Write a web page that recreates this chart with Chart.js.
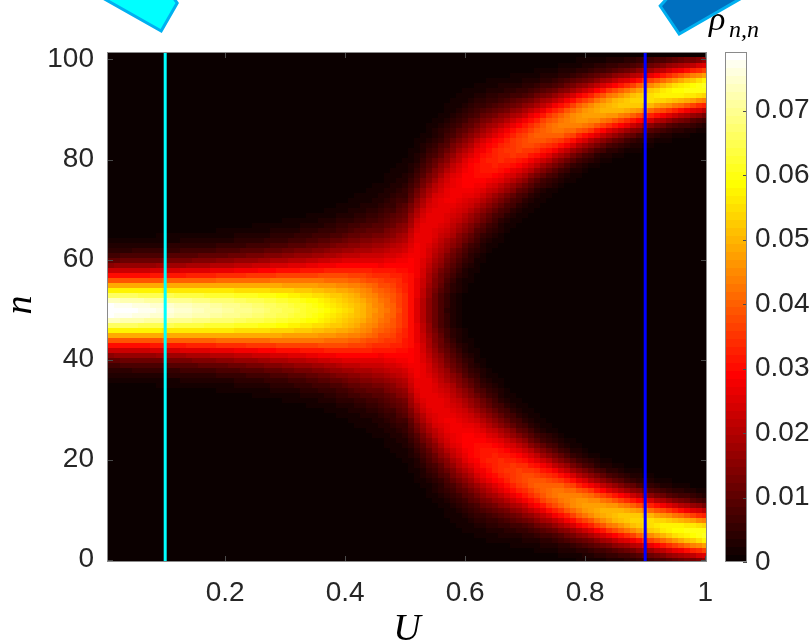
<!DOCTYPE html>
<html>
<head>
<meta charset="utf-8">
<script src="https://cdn.jsdelivr.net/npm/chart.js@4.4.1/dist/chart.umd.min.js"></script>
<style>
html,body{margin:0;padding:0;background:#fff;}
#wrap{width:809px;height:643px;}
</style>
</head>
<body>
<div id="wrap"><canvas id="mycanvas" width="809" height="643"></canvas></div>
<script>
// one column of the map per interaction value U
var uValues = [
	0.01,0.02,0.03,0.04,0.05,0.06,0.07,0.08,0.09,0.10,
	0.11,0.12,0.13,0.14,0.15,0.16,0.17,0.18,0.19,0.20,
	0.21,0.22,0.23,0.24,0.25,0.26,0.27,0.28,0.29,0.30,
	0.31,0.32,0.33,0.34,0.35,0.36,0.37,0.38,0.39,0.40,
	0.41,0.42,0.43,0.44,0.45,0.46,0.47,0.48,0.49,0.50,
	0.51,0.52,0.53,0.54,0.55,0.56,0.57,0.58,0.59,0.60,
	0.61,0.62,0.63,0.64,0.65,0.66,0.67,0.68,0.69,0.70,
	0.71,0.72,0.73,0.74,0.75,0.76,0.77,0.78,0.79,0.80,
	0.81,0.82,0.83,0.84,0.85,0.86,0.87,0.88,0.89,0.90,
	0.91,0.92,0.93,0.94,0.95,0.96,0.97,0.98,0.99,1.00
];
// height of rho_{n,n} at the centre of each branch
var peak = [
	0.0795,0.0792,0.0788,0.0784,0.0779,0.0775,0.0771,0.0767,0.0763,0.0759,
	0.0755,0.0751,0.0747,0.0743,0.0738,0.0734,0.0729,0.0724,0.0719,0.0714,
	0.0709,0.0704,0.0699,0.0693,0.0687,0.0681,0.0674,0.0667,0.0660,0.0652,
	0.0644,0.0636,0.0627,0.0617,0.0607,0.0597,0.0585,0.0572,0.0560,0.0547,
	0.0532,0.0515,0.0498,0.0478,0.0455,0.0428,0.0398,0.0362,0.0328,0.0300,
	0.0282,0.0274,0.0270,0.0268,0.0268,0.0269,0.0272,0.0276,0.0281,0.0287,
	0.0295,0.0304,0.0313,0.0322,0.0331,0.0340,0.0349,0.0358,0.0367,0.0376,
	0.0386,0.0396,0.0406,0.0416,0.0426,0.0436,0.0446,0.0455,0.0464,0.0473,
	0.0482,0.0491,0.0499,0.0507,0.0515,0.0523,0.0530,0.0537,0.0544,0.0551,
	0.0558,0.0565,0.0572,0.0579,0.0586,0.0593,0.0600,0.0606,0.0612,0.0618
];
// width of each branch in n, on its outer side
var spread = [
	5.02,5.04,5.06,5.09,5.12,5.15,5.17,5.20,5.23,5.26,
	5.30,5.34,5.38,5.42,5.46,5.50,5.55,5.60,5.65,5.70,
	5.76,5.82,5.88,5.95,6.02,6.09,6.17,6.25,6.34,6.43,
	6.53,6.64,6.76,6.89,7.03,7.18,7.35,7.54,7.75,7.98,
	8.22,8.48,8.75,9.02,9.28,9.45,9.55,9.50,9.35,9.10,
	8.85,8.60,8.35,8.12,7.92,7.74,7.58,7.44,7.30,7.16,
	6.98,6.78,6.58,6.38,6.18,5.99,5.80,5.63,5.47,5.32,
	5.18,5.04,4.91,4.78,4.66,4.55,4.45,4.36,4.28,4.20,
	4.12,4.05,3.99,3.93,3.87,3.81,3.76,3.71,3.66,3.61,
	3.57,3.52,3.48,3.44,3.40,3.36,3.32,3.29,3.26,3.23
];
// width on the side facing n = 50
var spreadIn = [
	5.02,5.04,5.06,5.09,5.12,5.15,5.17,5.20,5.23,5.26,
	5.30,5.34,5.38,5.42,5.46,5.50,5.55,5.60,5.65,5.70,
	5.76,5.82,5.88,5.95,6.02,6.09,6.17,6.25,6.34,6.43,
	6.53,6.64,6.76,6.89,7.03,7.18,7.35,7.54,7.75,7.98,
	8.22,8.48,8.75,9.02,9.28,9.45,9.60,9.80,10.1,10.4,
	10.7,11.0,11.1,11.0,10.8,10.5,10.1,9.70,9.30,8.90,
	8.50,8.10,7.75,7.40,7.05,6.75,6.45,6.20,5.95,5.75,
	5.55,5.37,5.20,5.05,4.90,4.76,4.63,4.51,4.40,4.30,
	4.18,4.10,4.03,3.96,3.90,3.84,3.78,3.73,3.68,3.63,
	3.58,3.53,3.49,3.45,3.41,3.37,3.33,3.30,3.27,3.24
];
// distance of the two branches from n = 50
var split = [
	0,0,0,0,0,0,0,0,0,0,
	0,0,0,0,0,0,0,0,0,0,
	0,0,0,0,0,0,0,0,0,0,
	0,0,0,0,0,0,0,0,0,0,
	0,0,0,0,1,2,3.5,5,6.5,8,
	10.5,13,15.2,17.2,19,20.7,22.2,23.6,24.9,26.1,
	27.2,28.2,29.1,29.9,30.6,31.3,32.0,32.6,33.2,33.8,
	34.4,35.0,35.6,36.1,36.6,37.1,37.6,38.1,38.6,39.0,
	39.4,39.8,40.2,40.6,40.9,41.2,41.5,41.8,42.1,42.4,
	42.7,43.0,43.2,43.5,43.7,43.9,44.1,44.3,44.5,44.7
];
var nMax = 100;
var xTicks = [0.2, 0.4, 0.6, 0.8, 1];
var yTicks = [0, 20, 40, 60, 80, 100];
var cTicks = [0, 0.01, 0.02, 0.03, 0.04, 0.05, 0.06, 0.07];
var cMax = 0.0791;
var lineU = [0.1, 0.9];
var lineColors = ['#00ffff', '#0000ff'];

var tickFont = {family: 'Liberation Sans', size: 28};
var textColor = '#262626';

function rho(i, n) {
	var d = split[i], sOut = spread[i], sIn = spreadIn[i];
	var c = nMax / 2;
	var g = function(x, s) { return Math.exp(-x * x / (2 * s * s)); };
	// upper branch at c+d, lower one mirrored at c-d
	var up = n >= c + d ? g(n - c - d, sOut) : g(n - c - d, sIn);
	var lo = n <= c - d ? g(n - c + d, sOut) : g(n - c + d, sIn);
	return peak[i] * (up + lo) / (1 + g(2 * d, sIn));
}

// matlab "hot", 64 levels
function hot(k) {
	var r = k < 24 ? (k + 1) / 24 : 1;
	var g = k < 24 ? 0 : (k < 48 ? (k - 23) / 24 : 1);
	var b = k < 48 ? 0 : (k - 47) / 16;
	return 'rgb(' + Math.round(r * 255) + ',' + Math.round(g * 255) + ',' + Math.round(b * 255) + ')';
}
function hotIndex(v) {
	var k = Math.floor(v / cMax * 64);
	return Math.max(0, Math.min(63, k));
}

var heatmap = {
	id: 'heatmap',
	beforeDatasetsDraw: function(chart) {
		var ctx = chart.ctx, a = chart.chartArea;
		var xs = chart.scales.x, ys = chart.scales.y;
		ctx.save();
		ctx.beginPath();
		ctx.rect(a.left, a.top, a.right - a.left, a.bottom - a.top);
		ctx.clip();
		ctx.fillStyle = hot(0);
		ctx.fillRect(a.left, a.top, a.right - a.left, a.bottom - a.top);
		for (var i = 0; i < uValues.length; i++) {
			var x0 = Math.round(xs.getPixelForValue(uValues[i] - 0.005));
			var x1 = Math.round(xs.getPixelForValue(uValues[i] + 0.005));
			for (var n = 0; n <= nMax; n++) {
				var y0 = Math.round(ys.getPixelForValue(n + 0.5));
				var y1 = Math.round(ys.getPixelForValue(n - 0.5));
				ctx.fillStyle = hot(hotIndex(rho(i, n)));
				ctx.fillRect(x0, y0, x1 - x0 + 1, y1 - y0 + 1);
			}
		}
		ctx.restore();
	},
	afterDatasetsDraw: function(chart) {
		var ctx = chart.ctx, a = chart.chartArea;
		var xs = chart.scales.x, ys = chart.scales.y, cs = chart.scales.c;
		ctx.save();
		// inward ticks and box
		ctx.strokeStyle = '#4a4a4a';
		ctx.lineWidth = 1;
		ctx.beginPath();
		xTicks.forEach(function(v) {
			var px = Math.round(xs.getPixelForValue(v)) + 0.5;
			ctx.moveTo(px, a.bottom); ctx.lineTo(px, a.bottom - 6);
			ctx.moveTo(px, a.top); ctx.lineTo(px, a.top + 6);
		});
		yTicks.forEach(function(v) {
			var py = Math.round(ys.getPixelForValue(v)) + 0.5;
			ctx.moveTo(a.left, py); ctx.lineTo(a.left + 6, py);
			ctx.moveTo(a.right, py); ctx.lineTo(a.right - 6, py);
		});
		ctx.stroke();
		ctx.strokeStyle = '#8a8a8a';
		ctx.strokeRect(a.left + 0.5, a.top + 0.5, a.right - a.left - 1, a.bottom - a.top - 1);

		// colour bar
		var bx0 = 725, bx1 = 747;
		for (var k = 0; k < 64; k++) {
			var yb = cs.getPixelForValue(k * cMax / 64);
			var yt = cs.getPixelForValue((k + 1) * cMax / 64);
			ctx.fillStyle = hot(k);
			ctx.fillRect(bx0, Math.floor(yt), bx1 - bx0, Math.ceil(yb) - Math.floor(yt));
		}
		ctx.strokeStyle = '#4a4a4a';
		ctx.beginPath();
		cTicks.forEach(function(v) {
			var py = Math.round(cs.getPixelForValue(v)) + 0.5;
			ctx.moveTo(bx1, py); ctx.lineTo(bx1 - 4, py);
		});
		ctx.stroke();
		ctx.strokeStyle = '#8a8a8a';
		ctx.strokeRect(bx0 + 0.5, cs.top + 0.5, bx1 - bx0 - 1, cs.bottom - cs.top - 1);

		// axis labels
		ctx.fillStyle = '#000';
		ctx.font = 'italic 38px "Liberation Serif"';
		ctx.textAlign = 'center';
		ctx.textBaseline = 'alphabetic';
		ctx.fillText('U', (a.left + a.right) / 2, 640);
		ctx.save();
		ctx.translate(31, (a.top + a.bottom) / 2 - 2);
		ctx.rotate(-Math.PI / 2);
		ctx.fillText('n', 0, 0);
		ctx.restore();
		ctx.textAlign = 'left';
		ctx.font = 'italic 34px "Liberation Serif"';
		ctx.fillText('\u03c1', 709, 30);
		ctx.font = 'italic 24px "Liberation Serif"';
		ctx.fillText('n,n', 729, 37);

		// callout shapes above the two marked columns
		var px1 = xs.getPixelForValue(lineU[0]);
		var px2 = xs.getPixelForValue(lineU[1]);
		ctx.lineWidth = 3;
		ctx.lineJoin = 'miter';
		ctx.strokeStyle = '#00b0f0';
		ctx.fillStyle = '#00ffff';
		ctx.beginPath();
		ctx.moveTo(px1 - 66, -4);
		ctx.lineTo(px1 - 4, 31);
		ctx.lineTo(px1 + 12, 3);
		ctx.lineTo(px1 + 7, -4);
		ctx.closePath();
		ctx.fill(); ctx.stroke();
		ctx.fillStyle = '#0070c0';
		ctx.beginPath();
		ctx.moveTo(px2 + 24, -4);
		ctx.lineTo(px2 + 15, 6);
		ctx.lineTo(px2 + 34, 34);
		ctx.lineTo(px2 + 100, -4);
		ctx.closePath();
		ctx.fill(); ctx.stroke();
		ctx.restore();
	}
};

var lineSets = lineU.map(function(u, j) {
	return {
		data: [{x: u, y: -0.5}, {x: u, y: nMax + 1.5}],
		showLine: true,
		borderColor: lineColors[j],
		borderWidth: 3,
		pointRadius: 0,
		pointHoverRadius: 0
	};
});

function fixTicks(list) {
	return function(scale) {
		scale.ticks = list.map(function(v) { return {value: v}; });
	};
}
// keep tick labels from pushing the plot area around
function noPad(s) {
	s.paddingTop = 0; s.paddingBottom = 0;
	s.paddingLeft = 0; s.paddingRight = 0;
}

var ctx = document.getElementById('mycanvas');
var chart = new Chart(ctx, {
	type: 'scatter',
	data: {datasets: lineSets},
	options: {
		responsive: false,
		animation: false,
		events: [],
		layout: {padding: {top: 52, left: 0, right: 0, bottom: 0}},
		plugins: {legend: {display: false}, tooltip: {enabled: false}},
		scales: {
			x: {
				type: 'linear', min: 0.003, max: 1.003,
				afterBuildTicks: fixTicks(xTicks),
				afterFit: function(s) { s.height = 81; noPad(s); },
				grid: {display: false},
				border: {display: false},
				ticks: {font: tickFont, color: textColor, padding: 6, maxRotation: 0,
					callback: function(v) { return String(v); }}
			},
			y: {
				type: 'linear', position: 'left', min: -0.5, max: nMax + 1.5,
				afterBuildTicks: fixTicks(yTicks),
				afterFit: function(s) { s.width = 107; noPad(s); },
				grid: {display: false},
				border: {display: false},
				ticks: {font: tickFont, color: textColor, padding: 5,
					callback: function(v) { return String(v); }}
			},
			c: {
				type: 'linear', position: 'right', min: 0, max: cMax,
				afterBuildTicks: fixTicks(cTicks),
				afterFit: function(s) { s.width = 102; noPad(s); },
				grid: {display: false},
				border: {display: false},
				ticks: {font: tickFont, color: textColor, padding: 40,
					callback: function(v) { return String(Number(v.toFixed(2))); }}
			}
		}
	},
	plugins: [heatmap]
});
</script>
</body>
</html>
